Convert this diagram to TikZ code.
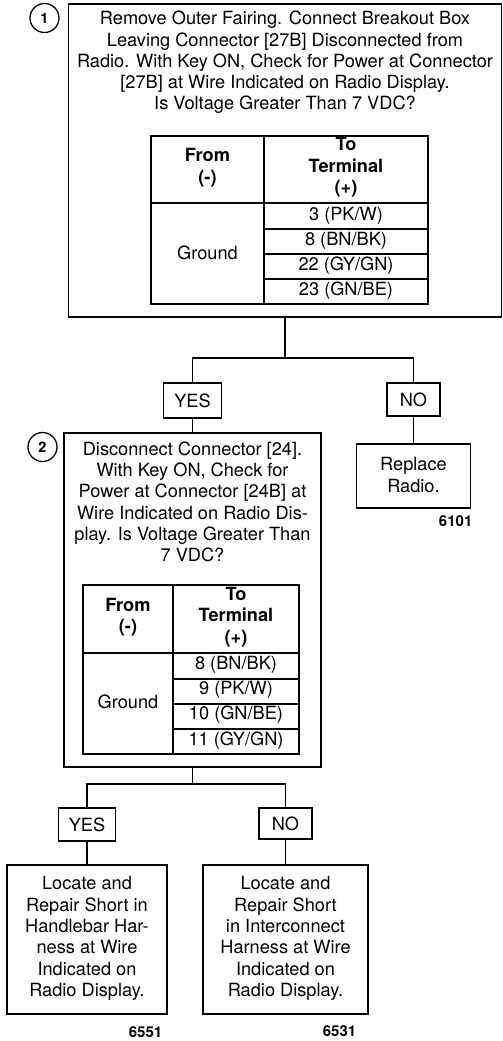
\documentclass[tikz,border=0pt]{standalone}
\usepackage{fontspec}
\setmainfont{TeX Gyre Heros}
\begin{document}
\begin{tikzpicture}[x=1pt,y=-1pt,line width=1.3pt,
  box/.style={draw,inner sep=0pt},
  txt/.style={align=center,inner sep=0pt,font=\fontsize{18.2}{21.3}\selectfont},
  hdr/.style={align=center,inner sep=0pt,font=\fontsize{18.2}{21.5}\selectfont\bfseries},
  code/.style={inner sep=0pt,font=\fontsize{15}{18}\selectfont\bfseries},
  stepnum/.style={draw,circle,inner sep=0pt,minimum size=29pt,font=\fontsize{14.5}{16}\selectfont\bfseries}]
\useasboundingbox (0,0) rectangle (503,1041);

% ---- Step 1 ----
\node[stepnum] (c1) at (44.5,18) {1};
\node[box,minimum width=433pt,minimum height=313pt] (box1) at (285,160.5) {};
\node[txt] (t1) at (285,62.5) {Remove Outer Fairing. Connect Breakout Box\\Leaving Connector {[}27B{]} Disconnected from\\Radio. With Key ON, Check for Power at Connector\\{[}27B{]} at Wire Indicated on Radio Display.\\Is Voltage Greater Than 7 VDC?};
% table 1
\draw (151,136) rectangle (428,304);
\draw (264,136) -- (264,304);
\draw (151,203) -- (428,203);
\draw (264,229) -- (428,229);
\draw (264,254) -- (428,254);
\draw (264,279) -- (428,279);
\node[hdr] (t1from) at (207.5,167.5) {From\\(-)};
\node[hdr] (t1to) at (346,167.5) {To\\Terminal\\(+)};
\node[txt] (t1gnd) at (207.5,252.5) {Ground};
\node[txt] (t1r1) at (346,215.5) {3 (PK/W)};
\node[txt] (t1r2) at (346,241) {8 (BN/BK)};
\node[txt] (t1r3) at (346,266) {22 (GY/GN)};
\node[txt] (t1r4) at (346,291) {23 (GN/BE)};

% ---- answers to step 1 ----
\node[box,txt,minimum width=58pt,minimum height=35pt] (yes1) at (192.5,400.5) {YES};
\node[box,txt,minimum width=53pt,minimum height=33pt] (no1) at (413.5,399.5) {NO};
\coordinate (j1) at (285,358);
\draw (box1.south) -- (j1);
\draw (yes1.north) |- (j1) -| (no1.north);

% ---- Replace radio ----
\node[box,minimum width=114pt,minimum height=64pt] (rep) at (413.5,476) {};
\node[txt] (reptxt) at (413.5,475) {Replace\\Radio.};
\node[code,anchor=east] (c6101) at (473,521) {6101};
\draw (no1.south) -- (rep.north);

% ---- Step 2 ----
\node[stepnum] (c2) at (42.5,447) {2};
\node[box,minimum width=257pt,minimum height=334pt] (box2) at (192.5,600) {};
\draw (yes1.south) -- (box2.north);
\node[txt] (t2) at (192.5,502) {Disconnect Connector {[}24{]}.\\With Key ON, Check for\\Power at Connector {[}24B{]} at\\Wire Indicated on Radio Dis-\\play. Is Voltage Greater Than\\7 VDC?};
% table 2
\draw (83,585) rectangle (299,754);
\draw (173,585) -- (173,754);
\draw (83,653) -- (299,653);
\draw (173,679) -- (299,679);
\draw (173,704) -- (299,704);
\draw (173,729) -- (299,729);
\node[hdr] (t2from) at (128,617) {From\\(-)};
\node[hdr] (t2to) at (236,617) {To\\Terminal\\(+)};
\node[txt] (t2gnd) at (128,702) {Ground};
\node[txt] (t2r1) at (236,665) {8 (BN/BK)};
\node[txt] (t2r2) at (236,690) {9 (PK/W)};
\node[txt] (t2r3) at (236,715) {10 (GN/BE)};
\node[txt] (t2r4) at (236,740.5) {11 (GY/GN)};

% ---- answers to step 2 ----
\node[box,txt,minimum width=57pt,minimum height=33pt] (yes2) at (87,824.5) {YES};
\node[box,txt,minimum width=53pt,minimum height=31pt] (no2) at (285.5,823.5) {NO};
\coordinate (j2) at (192.5,784);
\draw (box2.south) -- (j2);
\draw (yes2.north) |- (j2) -| (no2.north);

% ---- final boxes ----
\node[box,minimum width=160pt,minimum height=149pt] (bl) at (87,939.5) {};
\node[txt] (bltxt) at (87,938.5) {Locate and\\Repair Short in\\Handlebar Har-\\ness at Wire\\Indicated on\\Radio Display.};
\node[box,minimum width=165pt,minimum height=149pt] (br) at (285.5,939.5) {};
\node[txt] (brtxt) at (285.5,938.5) {Locate and\\Repair Short\\in Interconnect\\Harness at Wire\\Indicated on\\Radio Display.};
\draw (yes2.south) -- (bl.north);
\draw (no2.south) -- (br.north);
\node[code] (c6551) at (145.5,1032) {6551};
\node[code] (c6531) at (339.5,1031) {6531};
\end{tikzpicture}
\end{document}
